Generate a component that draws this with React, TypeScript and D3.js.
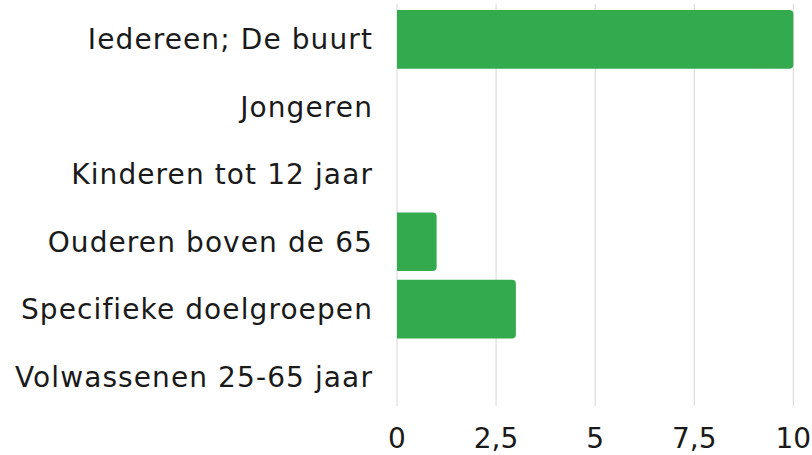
import * as d3 from 'd3';

const W = 812;
const H = 455;

const categories = [
  'Iedereen; De buurt',
  'Jongeren',
  'Kinderen tot 12 jaar',
  'Ouderen boven de 65',
  'Specifieke doelgroepen',
  'Volwassenen 25-65 jaar',
];
const values = [10, 0, 0, 1, 3, 0];
const ticks = [0, 2.5, 5, 7.5, 10];

const FONT = '"DejaVu Sans", sans-serif';
const GREEN = '#34aa4f';

// bar path with rounded right corners only
const barPath = (x0: number, x1: number, y0: number, h: number, r: number) => {
  const rr = Math.min(r, (x1 - x0) / 2, h / 2);
  return `M${x0},${y0}H${x1 - rr}Q${x1},${y0} ${x1},${y0 + rr}V${y0 + h - rr}Q${x1},${y0 + h} ${x1 - rr},${y0 + h}H${x0}Z`;
};

export default function App() {
  const x = d3.scaleLinear().domain([0, 10]).range([397, 793.3]);
  const y = d3.scaleBand<string>().domain(categories).range([10, 406]).paddingInner(0.13).paddingOuter(0);
  const fmt = (v: number) => String(v).replace('.', ',');

  return (
    <svg width={W} height={H} style={{ position: 'absolute', left: 0, top: 0 }}>
      <g>
        {ticks.map((t) => (
          <line key={t} x1={x(t)} x2={x(t)} y1={4} y2={406} stroke="#d6d6d6" strokeWidth={1} />
        ))}
      </g>
      <g>
        {categories.map((c, i) =>
          values[i] > 0 ? (
            <path key={c} d={barPath(x(0), x(values[i]), y(c)!, y.bandwidth(), 4)} fill={GREEN} />
          ) : null
        )}
      </g>
      <g fontFamily={FONT} fontSize={28} fill="#1a1a1a">
        {categories.map((c) => (
          <text key={c} x={373} y={y(c)! + y.bandwidth() / 2 + 10} textAnchor="end" letterSpacing={1.1}>
            {c}
          </text>
        ))}
        {ticks.map((t) => (
          <text key={t} x={x(t)} y={448} textAnchor="middle">
            {fmt(t)}
          </text>
        ))}
      </g>
    </svg>
  );
}
